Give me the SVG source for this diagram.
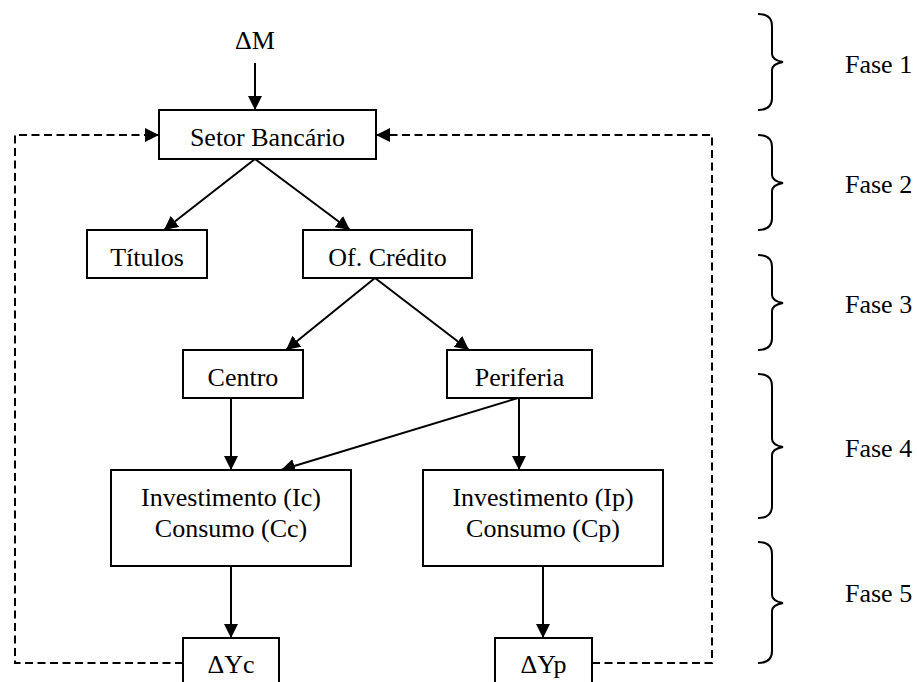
<svg xmlns="http://www.w3.org/2000/svg" width="917" height="682" viewBox="0 0 917 682">
<style>
.box{fill:#fff;stroke:#000;stroke-width:2}
.t{font-family:"Liberation Serif","Times New Roman",serif;font-size:26px;fill:#000;text-anchor:middle}
.f{font-family:"Liberation Serif","Times New Roman",serif;font-size:26px;fill:#000}
.ln{fill:none;stroke:#000;stroke-width:2;marker-end:url(#ah)}
.dl{fill:none;stroke:#000;stroke-width:2;stroke-dasharray:8 4.5}
.dla{fill:none;stroke:#000;stroke-width:2;stroke-dasharray:8 4.5;marker-end:url(#ah)}
.br{fill:none;stroke:#000;stroke-width:2}
</style>
<defs>
<marker id="ah" markerWidth="14" markerHeight="14" viewBox="0 0 14 14" refX="14" refY="7" orient="auto" markerUnits="userSpaceOnUse">
<path d="M0,0 L14,7 L0,14 Z" fill="#000"/>
</marker>
</defs>
<rect width="917" height="682" fill="#fff"/>
<g id="connectors">
<line class="ln" x1="255" y1="63" x2="255" y2="110"/>
<line class="ln" x1="255" y1="159" x2="164" y2="230"/>
<line class="ln" x1="255" y1="159" x2="350" y2="230"/>
<line class="ln" x1="375" y1="278" x2="286" y2="350"/>
<line class="ln" x1="375" y1="278" x2="469" y2="350"/>
<line class="ln" x1="231" y1="398" x2="231" y2="470"/>
<line class="ln" x1="518" y1="398" x2="281" y2="470"/>
<line class="ln" x1="519" y1="398" x2="519" y2="470"/>
<line class="ln" x1="231" y1="566" x2="231" y2="638"/>
<line class="ln" x1="543" y1="566" x2="543" y2="638"/>
<path class="dla" d="M183,663 H15 V135 H159"/>
<path class="dla" d="M592,663 H712 V135 H376"/>
</g>
<g id="dm"><text class="t" x="255" y="49">ΔM</text></g>
<g id="setor"><rect class="box" x="159" y="110" width="217" height="49"/><text class="t" x="267.5" y="146">Setor Bancário</text></g>
<g id="titulos"><rect class="box" x="87" y="230" width="120" height="48"/><text class="t" x="147" y="266">Títulos</text></g>
<g id="oferta"><rect class="box" x="303" y="230" width="169" height="48"/><text class="t" x="387.5" y="266">Of. Crédito</text></g>
<g id="centro"><rect class="box" x="183" y="350" width="120" height="48"/><text class="t" x="243" y="386">Centro</text></g>
<g id="periferia"><rect class="box" x="447" y="350" width="145" height="48"/><text class="t" x="519.5" y="386">Periferia</text></g>
<g id="ic"><rect class="box" x="111" y="470" width="240" height="96"/><text class="t" x="231" y="506">Investimento (Ic)</text><text class="t" x="231" y="537">Consumo (Cc)</text></g>
<g id="ip"><rect class="box" x="423" y="470" width="240" height="96"/><text class="t" x="543" y="506">Investimento (Ip)</text><text class="t" x="543" y="537">Consumo (Cp)</text></g>
<g id="yc"><rect class="box" x="183" y="638" width="96" height="52"/><text class="t" x="231" y="673">ΔYc</text></g>
<g id="yp"><rect class="box" x="495" y="638" width="97" height="52"/><text class="t" x="543.5" y="673">ΔYp</text></g>
<g id="fase1"><path class="br" d="M758,14 Q772,14 772,26 V54 Q772,60 783,62 Q772,64 772,70 V98 Q772,110 758,110"/><text class="f" x="845" y="73">Fase 1</text></g>
<g id="fase2"><path class="br" d="M758,135 Q772,135 772,147 V175 Q772,181 783,183 Q772,185 772,191 V218 Q772,230 758,230"/><text class="f" x="845" y="193">Fase 2</text></g>
<g id="fase3"><path class="br" d="M758,255 Q772,255 772,267 V295 Q772,301 783,303 Q772,305 772,311 V338 Q772,350 758,350"/><text class="f" x="845" y="313">Fase 3</text></g>
<g id="fase4"><path class="br" d="M758,374 Q772,374 772,386 V439 Q772,445 783,447 Q772,449 772,455 V506 Q772,518 758,518"/><text class="f" x="845" y="457">Fase 4</text></g>
<g id="fase5"><path class="br" d="M758,542 Q772,542 772,554 V595 Q772,601 783,603 Q772,605 772,611 V651 Q772,663 758,663"/><text class="f" x="845" y="602">Fase 5</text></g>
</svg>
